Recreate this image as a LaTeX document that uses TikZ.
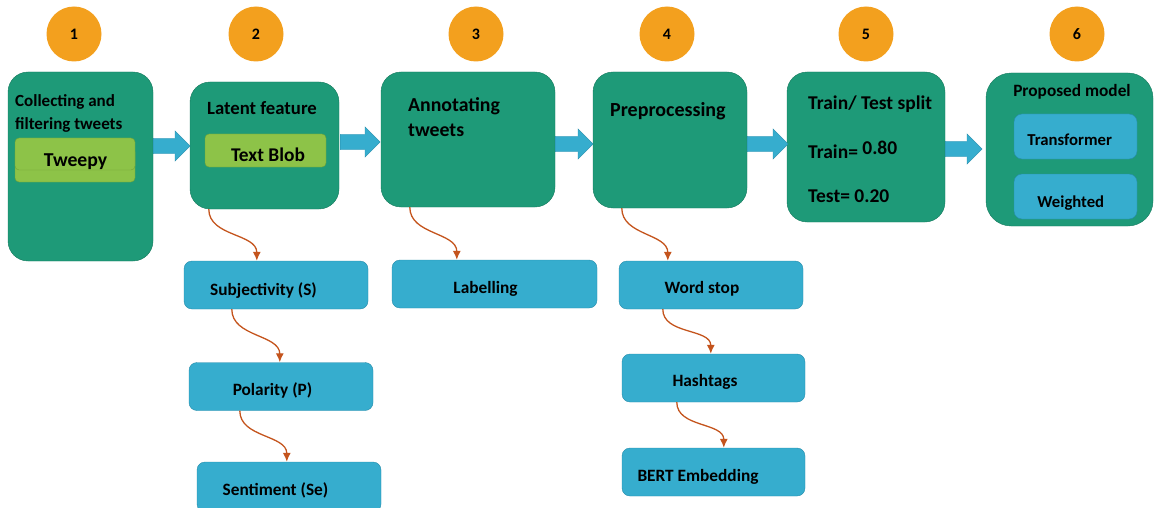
\documentclass[tikz,border=0pt]{standalone}
\usepackage{fontspec}
\setmainfont{Carlito}
\usetikzlibrary{arrows,arrows.meta}
\usetikzlibrary{shapes.arrows}
\definecolor{vert}{RGB}{30,154,120}
\definecolor{vertfonce}{RGB}{22,122,94}
\definecolor{pomme}{RGB}{141,195,72}
\definecolor{pommefonce}{RGB}{112,162,52}
\definecolor{bleu}{RGB}{54,173,206}
\definecolor{bleufonce}{RGB}{38,140,170}
\definecolor{orange1}{RGB}{243,160,30}
\definecolor{brun}{RGB}{196,84,29}
\newcommand\fs[1]{\fontsize{#1}{#1}\selectfont\bfseries}

\begin{document}
\begin{tikzpicture}[x=1pt,y=-1pt]%
        \useasboundingbox (0,0) rectangle (1156,508); %%
        \begin{scope}
        \tikzstyle{every node}=[circle,fill=orange1,minimum size=55,inner sep=0,font=\fs{16}] %%
        \node (n1) at (74,34)  {1}; %%
        \node (n2) at (256,34)  {2}; %%
        \node (n3) at (476,34)  {3}; %%
        \node (n4) at (667,34)  {4}; %%
        \node (n5) at (866,34)  {5}; %%
        \node (n6) at (1077,34)  {6}; %%
        \end{scope}
        \begin{scope}
        \tikzstyle{every node}=[draw=vertfonce,fill=vert,rounded corners=20,inner sep=0] %%
        \node[minimum width=145,minimum height=189] (col) at (80.5,166.5)  {}; %%
        \node[minimum width=149,minimum height=127] (lat) at (264.5,145.5)  {}; %%
        \node[minimum width=174,minimum height=135] (ann) at (468,139.5)  {}; %%
        \node[minimum width=154,minimum height=136] (pre) at (670,140)  {}; %%
        \node[minimum width=158,minimum height=150] (spl) at (866,147)  {}; %%
        \node[minimum width=167,minimum height=153,rounded corners=25] (mod) at (1069.5,149.5)  {}; %%
        \end{scope}
        \begin{scope}
        \tikzstyle{every node}=[draw=pommefonce,fill=pomme,rounded corners=4,inner sep=0] %%
        \node[minimum width=120,minimum height=34] (tw2) at (75,165)  {}; %%
        \node[minimum width=120,minimum height=32] (tw) at (75,154)  {}; %%
        \node[minimum width=121,minimum height=33] (tb) at (265.5,150.5)  {}; %%
        \end{scope}
        \begin{scope}
        \tikzstyle{every node}=[draw=bleufonce,fill=bleu,rounded corners=8,inner sep=0,minimum width=184,minimum height=48] %%
        \node[minimum width=123,minimum height=45] (trf) at (1075.5,136.5)  {}; %%
        \node[minimum width=123,minimum height=45] (wgt) at (1075.5,196.5)  {}; %%
        \node (sub) at (276,285)  {}; %%
        \node (pol) at (281,386.5)  {}; %%
        \node[minimum height=50] (sen) at (289,487)  {}; %%
        \node[minimum width=205] (lab) at (494.5,284)  {}; %%
        \node (wst) at (711,285)  {}; %%
        \node[minimum width=183] (hsh) at (713.5,378)  {}; %%
        \node[minimum width=183] (brt) at (713.5,472)  {}; %%
        \end{scope}
        \begin{scope}
        \tikzstyle{every node}=[single arrow,draw=bleufonce,fill=bleu,inner xsep=0,inner ysep=7.5,single arrow head extend=7.5,single arrow tip angle=90,anchor=tail] %%
        \node[minimum height=37] (ar1) at (153,146)  {}; %%
        \node[minimum height=40] (ar2) at (340,142)  {}; %%
        \node[minimum height=38] (ar3) at (555,144)  {}; %%
        \node[minimum height=41] (ar4) at (747,144)  {}; %%
        \node[minimum height=37] (ar5) at (945,149)  {}; %%
        \end{scope}
        \begin{scope}
        \tikzstyle{every node}=[inner sep=0,anchor=base west,font=\fs{17}] %%
        \node (t1a) at (15,107)  {Collecting and}; %%
        \node (t1b) at (15,129)  {filtering tweets}; %%
        \node[font=\fs{19.8}] (t3a) at (408,112)  {Annotating}; %%
        \node[font=\fs{19.8}] (t3b) at (408,136)  {tweets}; %%
        \node[font=\fs{20}] (t4) at (610,117)  {Preprocessing}; %%
        \node[font=\fs{19.5}] (t5a) at (808,110)  {Train/ Test split}; %%
        \node[font=\fs{19.5}] (t5b) at (808,158)  {Train= \raisebox{4pt}{0.80}}; %%
        \node[font=\fs{19.5}] (t5c) at (808,202)  {Test= 0.20}; %%
        \end{scope}
        \begin{scope}
        \tikzstyle{every node}=[inner sep=0,anchor=base,font=\fs{17.3}] %%
        \node[font=\fs{19.7}] (ttw) at (75.5,166)  {Tweepy}; %%
        \node[font=\fs{18.7}] (t2) at (262,115)  {Latent feature}; %%
        \node[font=\fs{19.4}] (ttb) at (268,161)  {Text Blob}; %%
        \node (t6) at (1072,97)  {Proposed model}; %%
        \node[font=\fs{16.7}] (ttr) at (1069.7,146)  {Transformer}; %%
        \node[font=\fs{16.7}] (twg) at (1070.8,207)  {Weighted}; %%
        \node (tsub) at (263.5,295)  {Subjectivity (S)}; %%
        \node (tpol) at (272.5,395)  {Polarity (P)}; %%
        \node (tsen) at (275.5,495)  {Sentiment (Se)}; %%
        \node (tlab) at (485.5,293)  {Labelling}; %%
        \node (twst) at (702,293)  {Word stop}; %%
        \node (thsh) at (705,386)  {Hashtags}; %%
        \node (tbrt) at (698,481)  {BERT Embedding}; %%
        \end{scope}
\draw[-{Latex[length=9pt,width=8pt]},brun,line width=1.3] ([xshift=19]lat.south west) to[out=-90,in=90] ([xshift=73]sub.north west); %%
\draw[-{Latex[length=9pt,width=8pt]},brun,line width=1.3] ([xshift=48]sub.south west) to[out=-90,in=90] ([xshift=91]pol.north west); %%
\draw[-{Latex[length=9pt,width=8pt]},brun,line width=1.3] ([xshift=51]pol.south west) to[out=-90,in=90] ([xshift=90]sen.north west); %%
\draw[-{Latex[length=9pt,width=8pt]},brun,line width=1.3] ([xshift=29]ann.south west) to[out=-90,in=90] ([xshift=65]lab.north west); %%
\draw[-{Latex[length=9pt,width=8pt]},brun,line width=1.3] ([xshift=29]pre.south west) to[out=-90,in=90] ([xshift=49]wst.north west); %%
\draw[-{Latex[length=9pt,width=8pt]},brun,line width=1.3] ([xshift=44]wst.south west) to[out=-90,in=90] ([xshift=89]hsh.north west); %%
\draw[-{Latex[length=9pt,width=8pt]},brun,line width=1.3] ([xshift=55]hsh.south west) to[out=-90,in=90] ([xshift=102]brt.north west); %%
\end{tikzpicture}
\end{document}
